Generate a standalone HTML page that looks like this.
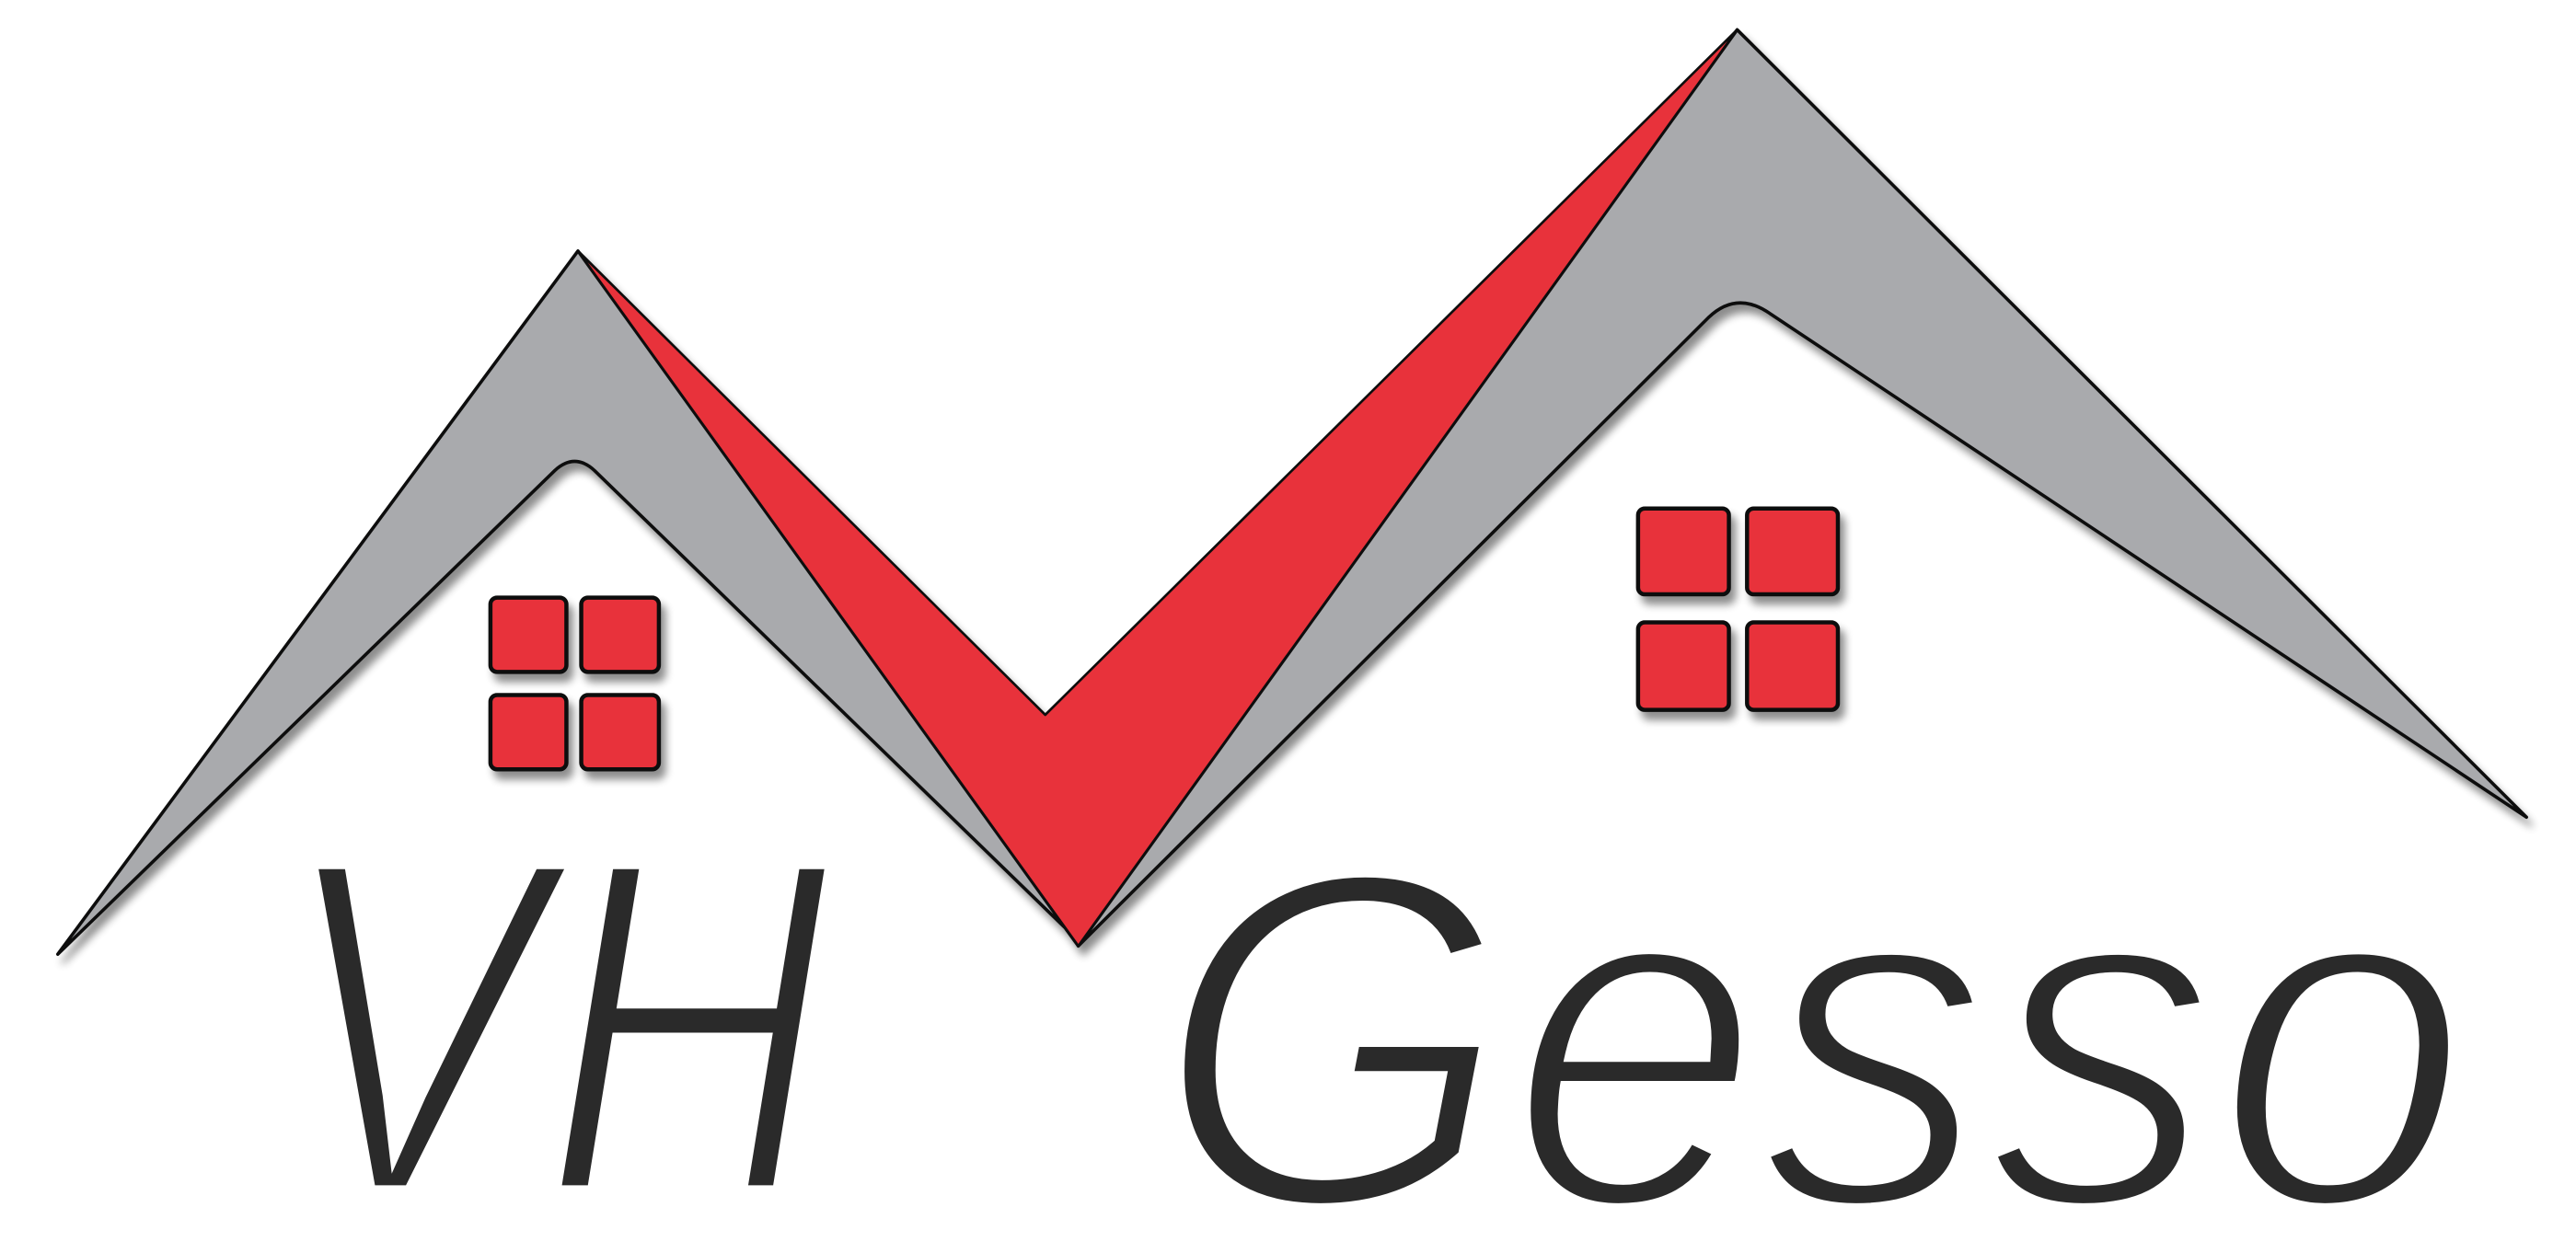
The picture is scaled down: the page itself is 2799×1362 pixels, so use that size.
<!DOCTYPE html>
<html><head><meta charset="utf-8"><style>
html,body{margin:0;padding:0;background:#fff;width:2799px;height:1362px;overflow:hidden}
svg{display:block;overflow:hidden}
</style></head><body>
<svg width="2799" height="1362" viewBox="0 0 1560 759" preserveAspectRatio="none" xmlns="http://www.w3.org/2000/svg">
<defs>
<filter id="sh" x="-10%" y="-10%" width="130%" height="130%"><feGaussianBlur in="SourceAlpha" stdDeviation="2.5"/><feOffset dx="3" dy="5"/><feComponentTransfer><feFuncA type="linear" slope="0.45"/></feComponentTransfer><feMerge><feMergeNode/><feMergeNode in="SourceGraphic"/></feMerge></filter>
</defs>
<rect width="1560" height="759" fill="#fff"/>
<g filter="url(#sh)" stroke="#111" stroke-width="2" stroke-linejoin="round">
<path fill="#a9aaad" d="M35,578 L350,152 L653,573 L645,562 L360,285 Q348,274 336,285 Z"/>
<path fill="#a9aaad" d="M653,573 L1052,18 L1530,495 L1072,190 Q1052,176 1035,192 Z"/>
<path fill="#e8323a" stroke-width="1.5" d="M350,152 L633,433 L1052,18 L653,573 Z"/>
</g>
<g filter="url(#sh)" fill="#e8323a" stroke="#111" stroke-width="2.5">
<rect x="297" y="362" width="46" height="45" rx="4"/>
<rect x="352" y="362" width="47" height="45" rx="4"/>
<rect x="297" y="421" width="46" height="45" rx="4"/>
<rect x="352" y="421" width="47" height="45" rx="4"/>
</g>
<g filter="url(#sh)" fill="#e8323a" stroke="#111" stroke-width="2.5">
<rect x="992" y="308" width="55" height="52" rx="4"/>
<rect x="1058" y="308" width="55" height="52" rx="4"/>
<rect x="992" y="377" width="55" height="53" rx="4"/>
<rect x="1058" y="377" width="55" height="53" rx="4"/>
</g>
<g font-family="'Liberation Sans', sans-serif" font-style="italic" font-size="290">
<g fill="#b8b8b8" stroke="#fff" stroke-width="8" transform="translate(4,6)">
<text x="168" y="722" textLength="335" lengthAdjust="spacingAndGlyphs">VH</text>
<text x="700" y="730" textLength="795" lengthAdjust="spacingAndGlyphs">Gesso</text>
</g>
<g fill="#2a2a2a" stroke="#fff" stroke-width="8">
<text x="168" y="722" textLength="335" lengthAdjust="spacingAndGlyphs">VH</text>
<text x="700" y="730" textLength="795" lengthAdjust="spacingAndGlyphs">Gesso</text>
</g>
</g>
</svg>
</body></html>
